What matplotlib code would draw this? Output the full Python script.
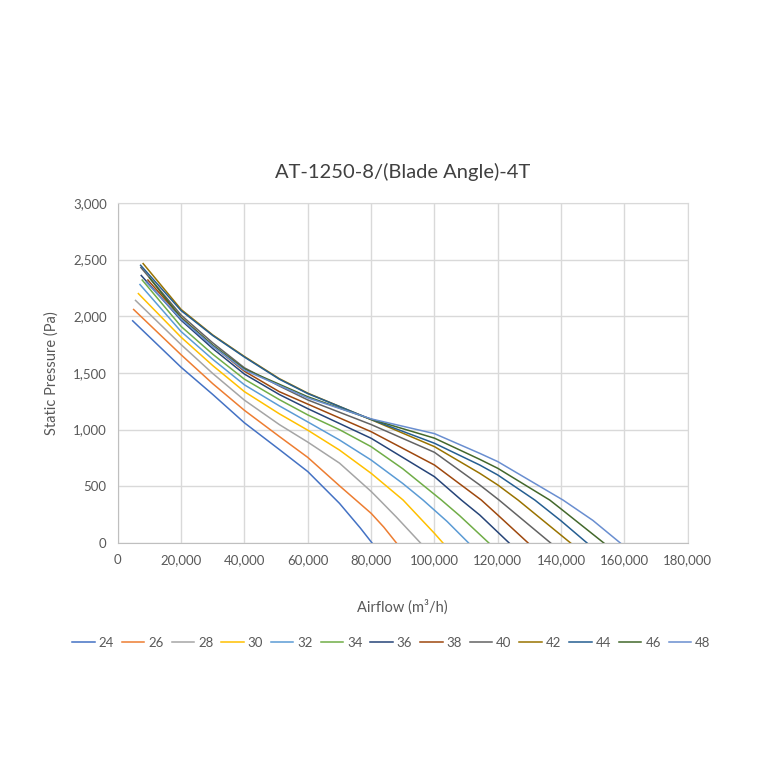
import matplotlib
matplotlib.use("Agg")
import matplotlib.pyplot as plt
from matplotlib.ticker import FuncFormatter, MultipleLocator

plt.rcParams['font.family'] = ['Lato', 'DejaVu Sans']

# blade angles and read-off curve points (airflow m3/h, static pressure Pa)
angles = ['24', '26', '28', '30', '32', '34', '36', '38', '40', '42', '44', '46', '48']

x24 = [4700, 20000, 30000, 40000, 51000, 60000, 70000, 76600, 80300]
y24 = [1960, 1550, 1310, 1060, 825, 630, 350, 132, 0]
x26 = [5000, 20000, 30000, 40000, 51000, 60000, 70000, 80000, 84000, 88000]
y26 = [2060, 1660, 1405, 1170, 940, 755, 505, 262, 140, 0]
x28 = [5600, 20000, 30000, 40000, 51000, 60000, 70000, 80000, 82700, 88000, 95600]
y28 = [2140, 1750, 1495, 1260, 1045, 890, 705, 455, 379, 228, 0]
x30 = [6500, 20000, 30000, 40000, 51000, 60000, 70000, 80000, 90100, 100000, 102700]
y30 = [2200, 1815, 1565, 1335, 1140, 995, 820, 615, 379, 85, 0]
x32 = [7000, 20000, 30000, 40000, 51000, 60000, 70000, 80000, 90000, 96400, 104000, 110800]
y32 = [2280, 1865, 1620, 1395, 1210, 1068, 909, 732, 525, 379, 190, 0]
x34 = [7700, 20000, 30000, 40000, 51000, 60000, 70000, 80000, 90000, 102200, 108000, 117200]
y34 = [2320, 1910, 1665, 1445, 1265, 1130, 1000, 850, 655, 379, 240, 0]
x36 = [7400, 20000, 30000, 40000, 51000, 60000, 80000, 100000, 108500, 114300, 123600]
y36 = [2360, 1965, 1715, 1490, 1310, 1185, 924, 585, 379, 247, 0]
x38 = [9500, 20000, 30000, 40000, 51000, 60000, 80000, 100000, 114800, 120000, 129600]
y38 = [2320, 1990, 1740, 1515, 1335, 1225, 982, 688, 379, 247, 0]
x40 = [7300, 20000, 30000, 40000, 51000, 60000, 80000, 100000, 114300, 120400, 136700]
y40 = [2430, 2010, 1765, 1545, 1385, 1262, 1045, 800, 512, 379, 0]
x42 = [8000, 20000, 30000, 40000, 51000, 60000, 80000, 100000, 114300, 120000, 126400, 143000]
y42 = [2465, 2060, 1835, 1645, 1450, 1322, 1088, 850, 615, 512, 379, 0]
x44 = [7200, 20000, 30000, 40000, 51000, 60000, 80000, 100000, 114300, 120000, 131700, 140000, 148200]
y44 = [2450, 2050, 1830, 1640, 1445, 1318, 1090, 880, 688, 600, 379, 195, 0]
x46 = [10000, 20000, 30000, 40000, 60000, 80000, 100000, 114300, 120000, 136400, 140000, 153500]
y46 = [2340, 1985, 1745, 1535, 1290, 1092, 925, 738, 659, 379, 300, 0]
x48 = [9000, 20000, 30000, 40000, 60000, 80000, 100000, 114300, 120000, 140600, 150000, 158700]
y48 = [2300, 1975, 1735, 1525, 1280, 1095, 965, 791, 718, 379, 200, 0]

xs = [x24, x26, x28, x30, x32, x34, x36, x38, x40, x42, x44, x46, x48]
ys = [y24, y26, y28, y30, y32, y34, y36, y38, y40, y42, y44, y46, y48]

colors = ['#4472C4', '#ED7D31', '#A5A5A5', '#FFC000', '#5B9BD5', '#70AD47',
          '#264478', '#9E480E', '#636363', '#997300', '#255E91', '#43682B', '#698ED0']

txt = '#595959'

fig = plt.figure(figsize=(7.6, 7.6), dpi=100)
ax = fig.add_axes([0.155, 0.2855, 0.75, 0.4475])

for a, x, y, c in zip(angles, xs, ys, colors):
    ax.plot(x, y, color=c, lw=1.1, label=a)

ax.set_xlim(0, 180000)
ax.set_ylim(0, 3000)
ax.xaxis.set_major_locator(MultipleLocator(20000))
ax.yaxis.set_major_locator(MultipleLocator(500))
fmt = FuncFormatter(lambda v, p: '{:,.0f}'.format(v))
ax.xaxis.set_major_formatter(fmt)
ax.yaxis.set_major_formatter(fmt)
ax.grid(True, color='#D9D9D9', lw=1.0)
ax.set_axisbelow(True)
for s in ax.spines.values():
    s.set_color('#D9D9D9')
ax.spines['bottom'].set_color('#BFBFBF')
ax.spines['left'].set_color('#BFBFBF')
ax.tick_params(length=0, labelsize=9.5, colors=txt, pad=8)

ax.set_title('AT-1250-8/(Blade Angle)-4T', fontsize=14.5, color='#404040', pad=18)
ax.set_xlabel('Airflow (m³/h)', fontsize=10.5, color=txt, labelpad=24)
ax.set_ylabel('Static Pressure (Pa)', fontsize=10.5, color=txt, labelpad=10)

leg = ax.legend(loc='upper center', bbox_to_anchor=(0.48, -0.24), ncol=13, frameon=False,
                fontsize=9.5, handlelength=1.7, handletextpad=0.3, columnspacing=0.6,
                labelcolor=txt)

fig.savefig('out.png', dpi=100)
